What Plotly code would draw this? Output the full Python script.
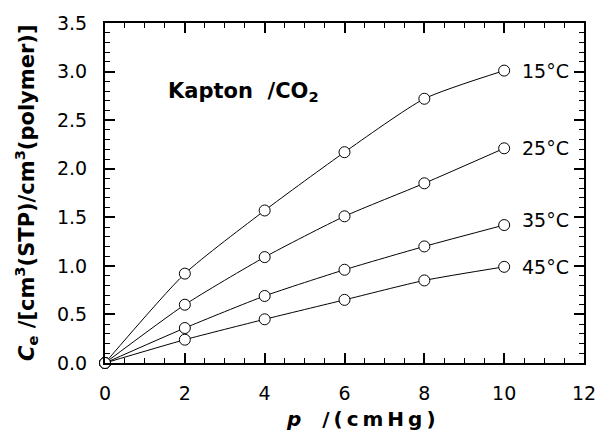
import plotly.graph_objects as go

# Data
pressure = [0, 2, 4, 6, 8, 10]
c_15 = [0, 0.92, 1.57, 2.17, 2.72, 3.01]
c_25 = [0, 0.60, 1.09, 1.51, 1.85, 2.21]
c_35 = [0, 0.36, 0.69, 0.96, 1.20, 1.42]
c_45 = [0, 0.24, 0.45, 0.65, 0.85, 0.99]

series_labels = ["15°C", "25°C", "35°C", "45°C"]
label_x = [10.4, 10.4, 10.4, 10.4]
label_y = [3.01, 2.21, 1.47, 0.99]

x_ticks = [0, 2, 4, 6, 8, 10, 12]
y_ticks = [0.0, 0.5, 1.0, 1.5, 2.0, 2.5, 3.0, 3.5]

FONT = "DejaVu Sans"
TS = "\u2009"

fig = go.Figure()
for ys in [c_15, c_25, c_35, c_45]:
    fig.add_trace(go.Scatter(
        x=pressure, y=ys, mode="lines+markers",
        line=dict(color="black", width=1, shape="spline", smoothing=0.6),
        marker=dict(symbol="circle", size=11, color="white",
                    line=dict(color="black", width=1)),
        cliponaxis=False, showlegend=False, hoverinfo="skip",
    ))

for txt, lx, ly in zip(series_labels, label_x, label_y):
    fig.add_annotation(x=lx, y=ly, xref="x", yref="y", text=txt,
                       showarrow=False, xanchor="left", yanchor="middle",
                       font=dict(family=FONT, size=19, color="black"))

fig.add_annotation(x=1.52, y=2.79, xref="x", yref="y",
                   text="<b>Kapton  /CO<sub>2</sub></b>",
                   showarrow=False, xanchor="left", yanchor="middle",
                   font=dict(family=FONT, size=21, color="black"))

xtitle = "<b><i>p</i>" + "\u00a0\u00a0\u00a0" + TS.join(list("/(cmHg)")) + "</b>"
fig.add_annotation(x=0.534, y=-0.165, xref="paper", yref="paper",
                   text=xtitle,
                   showarrow=False, xanchor="center", yanchor="middle",
                   font=dict(family=FONT, size=20, color="black"))

fig.add_annotation(x=-0.165, y=0.5, xref="paper", yref="paper",
                   text="<b><i>C</i><sub>e</sub> /[cm<sup>3</sup>(STP)/cm<sup>3</sup>(polymer)]</b>",
                   showarrow=False, xanchor="center", yanchor="middle",
                   textangle=-90,
                   font=dict(family=FONT, size=21, color="black"))

axis_common = dict(
    showline=True, linecolor="black", linewidth=2, mirror="ticks",
    ticks="inside", ticklen=10, tickwidth=1.5, tickcolor="black",
    showgrid=False, zeroline=False,
    tickfont=dict(family=FONT, size=19, color="black"),
    ticklabelstandoff=12,
)

fig.update_xaxes(range=[0, 12], tickvals=x_ticks,
                 ticktext=[str(v) for v in x_ticks],
                 minor=dict(dtick=0.5, ticks="inside", ticklen=5,
                            tickwidth=1, tickcolor="black"),
                 **axis_common)
fig.update_yaxes(range=[0, 3.5], tickvals=y_ticks,
                 ticktext=[f"{v:.1f}" for v in y_ticks],
                 minor=dict(dtick=0.1, ticks="inside", ticklen=5,
                            tickwidth=1, tickcolor="black"),
                 **axis_common)

fig.update_layout(
    width=608, height=432,
    margin=dict(l=105, r=16, t=23, b=69),
    paper_bgcolor="white", plot_bgcolor="white",
    font=dict(family=FONT, color="black"),
)

fig.write_html("out.html",
               config={"displayModeBar": False},
               post_script="document.body.style.margin='0';document.body.style.padding='0';")
